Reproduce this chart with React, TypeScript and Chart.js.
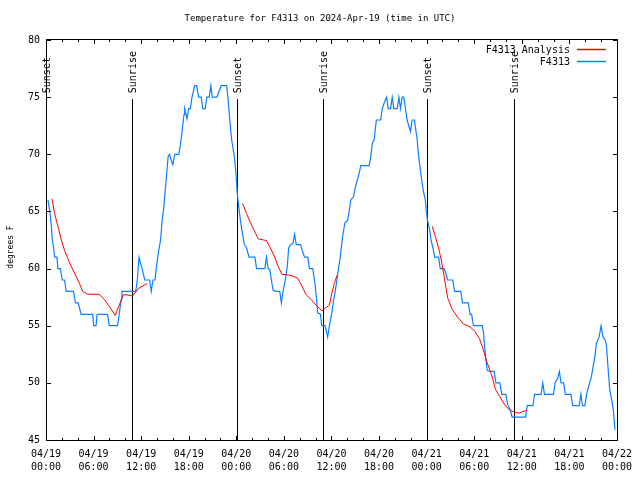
import React, { useEffect, useRef } from 'react';
import { Chart, registerables } from 'chart.js';

Chart.register(...registerables);

const TITLE = 'Temperature for F4313 on 2024-Apr-19 (time in UTC)';
const Y_LABEL = 'degrees F';
const X_TICK_DATES = ['04/19', '04/19', '04/19', '04/19', '04/20', '04/20', '04/20', '04/20', '04/21', '04/21', '04/21', '04/21', '04/22'];
const X_TICK_TIMES = ['00:00', '06:00', '12:00', '18:00', '00:00', '06:00', '12:00', '18:00', '00:00', '06:00', '12:00', '18:00', '00:00'];

const SERIES_ANALYSIS = 'F4313 Analysis';
const SERIES_STATION = 'F4313';

// hours since 04/19 00:00 UTC
const stationHours = [
  0.25, 0.46, 0.68, 0.8, 0.96, 1.09, 1.38, 1.5, 1.8, 2.05, 2.34, 2.55, 3.47, 3.72, 4.06, 4.43, 5.89, 6.01, 6.31, 6.44,
  7.76, 7.98, 9.02, 9.23, 9.48, 9.57, 11.32, 11.52, 11.73, 11.95, 12.15, 12.45, 13.07, 13.27, 13.49, 13.74, 13.9, 14.15,
  14.45, 14.65, 14.86, 15.08, 15.4, 15.57, 15.78, 15.99, 16.24, 16.74, 16.95, 17.16, 17.41, 17.49, 17.78, 17.99, 18.2,
  18.41, 18.75, 19.0, 19.25, 19.58, 19.78, 20.08, 20.29, 20.58, 20.79, 20.96, 21.54, 22.09, 22.79, 23.0, 23.21, 23.42,
  23.75, 23.97, 24.13, 24.26, 24.51, 24.76, 25.01, 25.3, 25.6, 26.35, 26.55, 27.6, 27.8, 28.01, 28.22, 28.42, 28.64,
  29.05, 29.48, 29.68, 29.89, 30.18, 30.43, 30.6, 30.85, 31.14, 31.35, 31.56, 32.1, 32.39, 32.61, 33.02, 33.23, 33.64,
  33.86, 34.06, 34.27, 34.61, 34.77, 35.19, 35.52, 35.74, 36.03, 36.28, 36.56, 36.86, 37.11, 37.4, 37.69, 38.03, 38.24,
  38.44, 38.78, 39.07, 39.37, 39.7, 40.75, 40.95, 41.16, 41.37, 41.66, 42.2, 42.41, 42.7, 42.95, 43.16, 43.45, 43.66,
  43.87, 44.29, 44.5, 44.7, 44.91, 45.12, 45.33, 45.54, 45.96, 46.17, 46.46, 46.58, 46.79, 47.0, 47.21, 47.55, 47.83,
  47.96, 48.1, 48.38, 48.55, 48.8, 49.01, 49.51, 49.71, 50.21, 50.46, 50.64, 51.3, 51.52, 52.31, 52.52, 53.27, 53.47,
  53.68, 53.89, 55.02, 55.18, 55.27, 55.43, 55.64, 55.97, 56.52, 56.73, 57.23, 57.48, 57.98, 58.23, 58.56, 58.78, 60.48,
  60.69, 61.4, 61.61, 62.44, 62.65, 62.86, 63.99, 64.2, 64.53, 64.74, 64.95, 65.28, 65.49, 66.2, 66.41, 67.24, 67.45,
  67.66, 67.95, 68.17, 68.5, 68.71, 68.92, 69.21, 69.42, 69.75, 70.0, 70.25, 70.5, 70.67, 70.87, 71.08, 71.34, 71.55,
  71.75,
];
const stationTemps = [
  66, 65.1, 63.7, 62.5, 61.8, 61, 61, 60, 60, 59, 59, 58, 58, 57, 57, 56, 56, 55, 55, 56,
  56, 55, 55, 56, 57.25, 58, 58, 59, 61, 60.4, 59.9, 59, 59, 58, 59, 59, 60, 61.3,
  62.5, 64.25, 65.4, 67.2, 69.8, 70, 69.5, 69.1, 70, 70, 70.8, 72, 73.5, 74, 73.1, 74, 74,
  75, 76, 76, 75, 75, 74, 74, 75, 75, 76, 75, 75, 76, 76, 74.5, 72.7, 71.25,
  69.8, 68.2, 66.5, 65.7, 64.25, 63.1, 62.1, 61.8, 61, 61, 60, 60, 61, 60, 59.9, 59, 58.1,
  58, 58, 57, 58, 59, 60.2, 61.8, 62.1, 62.2, 63, 62.1, 62.1, 61.4, 61, 61, 60, 60,
  59, 57.8, 56.1, 56, 55, 55, 54, 55, 56.1, 57.25, 58.4, 59.9, 61, 62.8, 64, 64.2, 65.1,
  66, 66.3, 67.3, 68, 69, 69, 69.8, 71, 71.2, 73, 73, 74, 74.6, 75, 74, 74, 75,
  74, 74, 75, 74, 75, 75, 74, 73, 72, 73, 73, 72.4, 71.4, 69.8, 68.6, 66.9, 66,
  65.1, 64.25, 63.4, 62.5, 61.8, 61, 61, 60, 60, 59.5, 59, 59, 58, 58, 57, 57, 56,
  56, 55, 55, 54.4, 53.5, 52.3, 51.1, 51, 51, 50, 50, 49, 49, 48.07, 47.6, 47, 47,
  48, 48, 49, 49, 50, 49, 49, 50, 50.4, 51, 50, 50, 49, 49, 48, 48, 49,
  48, 48, 49, 49.9, 50.3, 51.1, 52.3, 53.5, 54, 55, 54, 53.8, 53.3, 51.4, 49.5, 48.5, 47.6,
  45.9,
];

// null temps mark the gaps between analysis runs
const analysisHours = [
  0.75, 1.09, 1.5, 1.93, 2.34, 2.97, 3.6, 4.22, 4.64, 5.14, 5.47, 6.72, 7.35, 7.98, 8.73, 9.23, 9.73, 10.23, 10.89,
  11.73, 12.77, 18,
  24.79, 25.29, 25.92, 26.76, 27.8, 28.22, 28.85, 29.26, 29.76, 30.52, 31.14, 31.77, 32.18, 32.81, 33.43, 34.06, 34.81,
  35.31, 35.74, 36.03, 36.36, 36.69, 42,
  48.71, 49.09, 49.51, 49.8, 50.14, 50.34, 50.67, 51.18, 51.8, 52.64, 53.47, 54.09, 54.64, 55.15, 55.56, 56.19, 56.69,
  57.23, 57.85, 58.48, 59.1, 59.65, 60.15, 60.69,
];
const analysisTemps = [
  66.1, 64.8, 63.7, 62.5, 61.6, 60.5, 59.6, 58.7, 58.0, 57.8, 57.75, 57.75, 57.3, 56.7, 55.9, 56.8, 57.7, 57.7, 57.6,
  58.3, 58.7, null,
  65.7, 64.8, 63.8, 62.6, 62.45, 61.9, 61.0, 60.2, 59.5, 59.45, 59.35, 59.15, 58.6, 57.7, 57.3, 56.8, 56.3,
  56.6, 56.8, 57.8, 58.7, 59.4, null,
  63.7, 62.8, 61.8, 60.9, 59.6, 58.7, 57.4, 56.5, 55.85, 55.15, 54.9, 54.5, 53.9, 52.9, 51.9, 50.7, 49.4,
  48.8, 48.07, 47.6, 47.45, 47.35, 47.5, 47.6,
];

const sunEventHours = [0.05, 10.89, 24.04, 34.99, 48.08, 58.98];
const sunEventLabels = ['Sunset', 'Sunrise', 'Sunset', 'Sunrise', 'Sunset', 'Sunrise'];

const MONO = '"DejaVu Sans Mono", "Liberation Mono", monospace';
const RED = '#ff0000';
const BLUE = '#0a80ff';

const framePlugin = {
  id: 'gnuplotFrame',
  beforeDatasetsDraw(chart: any) {
    const { ctx, chartArea } = chart;
    const xs = chart.scales.x;
    const top = chartArea.top + 0.148 * (chartArea.bottom - chartArea.top);
    ctx.save();
    ctx.strokeStyle = '#000';
    ctx.lineWidth = 1;
    ctx.fillStyle = '#000';
    ctx.font = `10px ${MONO}`;
    sunEventHours.forEach((h, i) => {
      const px = Math.round(xs.getPixelForValue(h)) + 0.5;
      ctx.beginPath();
      ctx.moveTo(px, top);
      ctx.lineTo(px, chartArea.bottom);
      ctx.stroke();
      ctx.save();
      ctx.translate(px + 1, top - 6);
      ctx.rotate(-Math.PI / 2);
      ctx.textAlign = 'left';
      ctx.textBaseline = 'middle';
      ctx.fillText(sunEventLabels[i], 0, 0);
      ctx.restore();
    });
    ctx.restore();
  },
  afterDatasetsDraw(chart: any) {
    const { ctx, chartArea } = chart;
    const xs = chart.scales.x;
    const ys = chart.scales.y;
    const L = Math.round(chartArea.left) + 0.5;
    const R = Math.round(chartArea.right) + 0.5;
    const T = Math.round(chartArea.top) - 0.5;
    const B = Math.round(chartArea.bottom) + 0.5;
    ctx.save();
    ctx.strokeStyle = '#000';
    ctx.lineWidth = 1;
    ctx.beginPath();
    ctx.rect(L, T, R - L, B - T);
    ctx.stroke();
    ctx.beginPath();
    for (let h = 0; h <= 72; h += 2) {
      const px = Math.round(xs.getPixelForValue(h)) + 0.5;
      const len = h % 6 === 0 ? 4.5 : 2.5;
      ctx.moveTo(px, B);
      ctx.lineTo(px, B - len);
      ctx.moveTo(px, T);
      ctx.lineTo(px, T + len);
    }
    for (let v = 45; v <= 80; v += 5) {
      const py = Math.round(ys.getPixelForValue(v)) + 0.5;
      ctx.moveTo(L, py);
      ctx.lineTo(L + 4.5, py);
      ctx.moveTo(R, py);
      ctx.lineTo(R - 4.5, py);
    }
    ctx.stroke();
    ctx.restore();
  },
  afterDraw(chart: any) {
    const { ctx, chartArea } = chart;
    ctx.save();
    ctx.fillStyle = '#000';
    // title
    ctx.font = `9px ${MONO}`;
    ctx.textAlign = 'center';
    ctx.textBaseline = 'middle';
    ctx.fillText(TITLE, chart.width / 2, 19);
    // y label
    ctx.save();
    ctx.font = `8px ${MONO}`;
    ctx.translate(11, 247);
    ctx.rotate(-Math.PI / 2);
    ctx.fillText(Y_LABEL, 0, 0);
    ctx.restore();
    ctx.restore();
    // legend
    const tx = chartArea.right - 47;
    const rows = [
      { label: SERIES_ANALYSIS, color: RED, y: chartArea.top + 10 },
      { label: SERIES_STATION, color: BLUE, y: chartArea.top + 22 },
    ];
    rows.forEach((r) => {
      ctx.save();
      ctx.font = `10px ${MONO}`;
      ctx.textAlign = 'right';
      ctx.textBaseline = 'middle';
      ctx.fillStyle = '#000';
      ctx.fillText(r.label, tx, r.y);
      ctx.restore();
      ctx.save();
      ctx.strokeStyle = r.color;
      ctx.lineWidth = 1.5;
      ctx.beginPath();
      ctx.moveTo(tx + 7, Math.round(r.y) - 0.5);
      ctx.lineTo(tx + 36, Math.round(r.y) - 0.5);
      ctx.stroke();
      ctx.restore();
    });
  },
};

export default function App() {
  const canvasRef = useRef<HTMLCanvasElement | null>(null);

  useEffect(() => {
    document.body.style.margin = '0';
    const canvas = canvasRef.current;
    if (!canvas) return;
    const stationData = stationHours.map((h, i) => ({ x: h, y: stationTemps[i] }));
    const analysisData = analysisHours.map((h, i) => ({ x: h, y: analysisTemps[i] }));
    const chart = new Chart(canvas, {
      type: 'line',
      data: {
        datasets: [
          {
            label: SERIES_ANALYSIS,
            data: analysisData,
            borderColor: RED,
            backgroundColor: RED,
            borderWidth: 1,
            pointRadius: 0,
            tension: 0,
            spanGaps: false,
          },
          {
            label: SERIES_STATION,
            data: stationData,
            borderColor: BLUE,
            backgroundColor: BLUE,
            borderWidth: 1.2,
            pointRadius: 0,
            tension: 0,
          },
        ],
      },
      options: {
        responsive: false,
        animation: false,
        devicePixelRatio: 1,
        layout: { padding: { top: 40, right: 19, left: 0, bottom: 0 } },
        plugins: {
          legend: { display: false },
          title: { display: false },
          tooltip: { enabled: false },
        },
        scales: {
          x: {
            type: 'linear',
            min: 0,
            max: 72,
            grid: { display: false, drawTicks: false },
            border: { display: false },
            ticks: {
              stepSize: 6,
              autoSkip: false,
              maxRotation: 0,
              minRotation: 0,
              padding: 8,
              color: '#000',
              font: { family: MONO, size: 10, lineHeight: 1.27 },
              callback: (value: any) => {
                const i = Math.round(Number(value) / 6);
                return [X_TICK_DATES[i], X_TICK_TIMES[i]];
              },
            },
            afterFit: (s: any) => {
              s.height = 40;
            },
          },
          y: {
            min: 45,
            max: 80,
            grid: { display: false, drawTicks: false },
            border: { display: false },
            ticks: {
              stepSize: 5,
              padding: 6,
              color: '#000',
              font: { family: MONO, size: 10 },
            },
            afterFit: (s: any) => {
              s.width = 46;
            },
          },
        },
      },
      plugins: [framePlugin],
    } as any);
    return () => chart.destroy();
  }, []);

  return (
    <div style={{ position: 'absolute', left: 0, top: 0, width: 640, height: 480, background: '#fff' }}>
      <canvas ref={canvasRef} width={640} height={480} style={{ display: 'block' }} />
    </div>
  );
}
